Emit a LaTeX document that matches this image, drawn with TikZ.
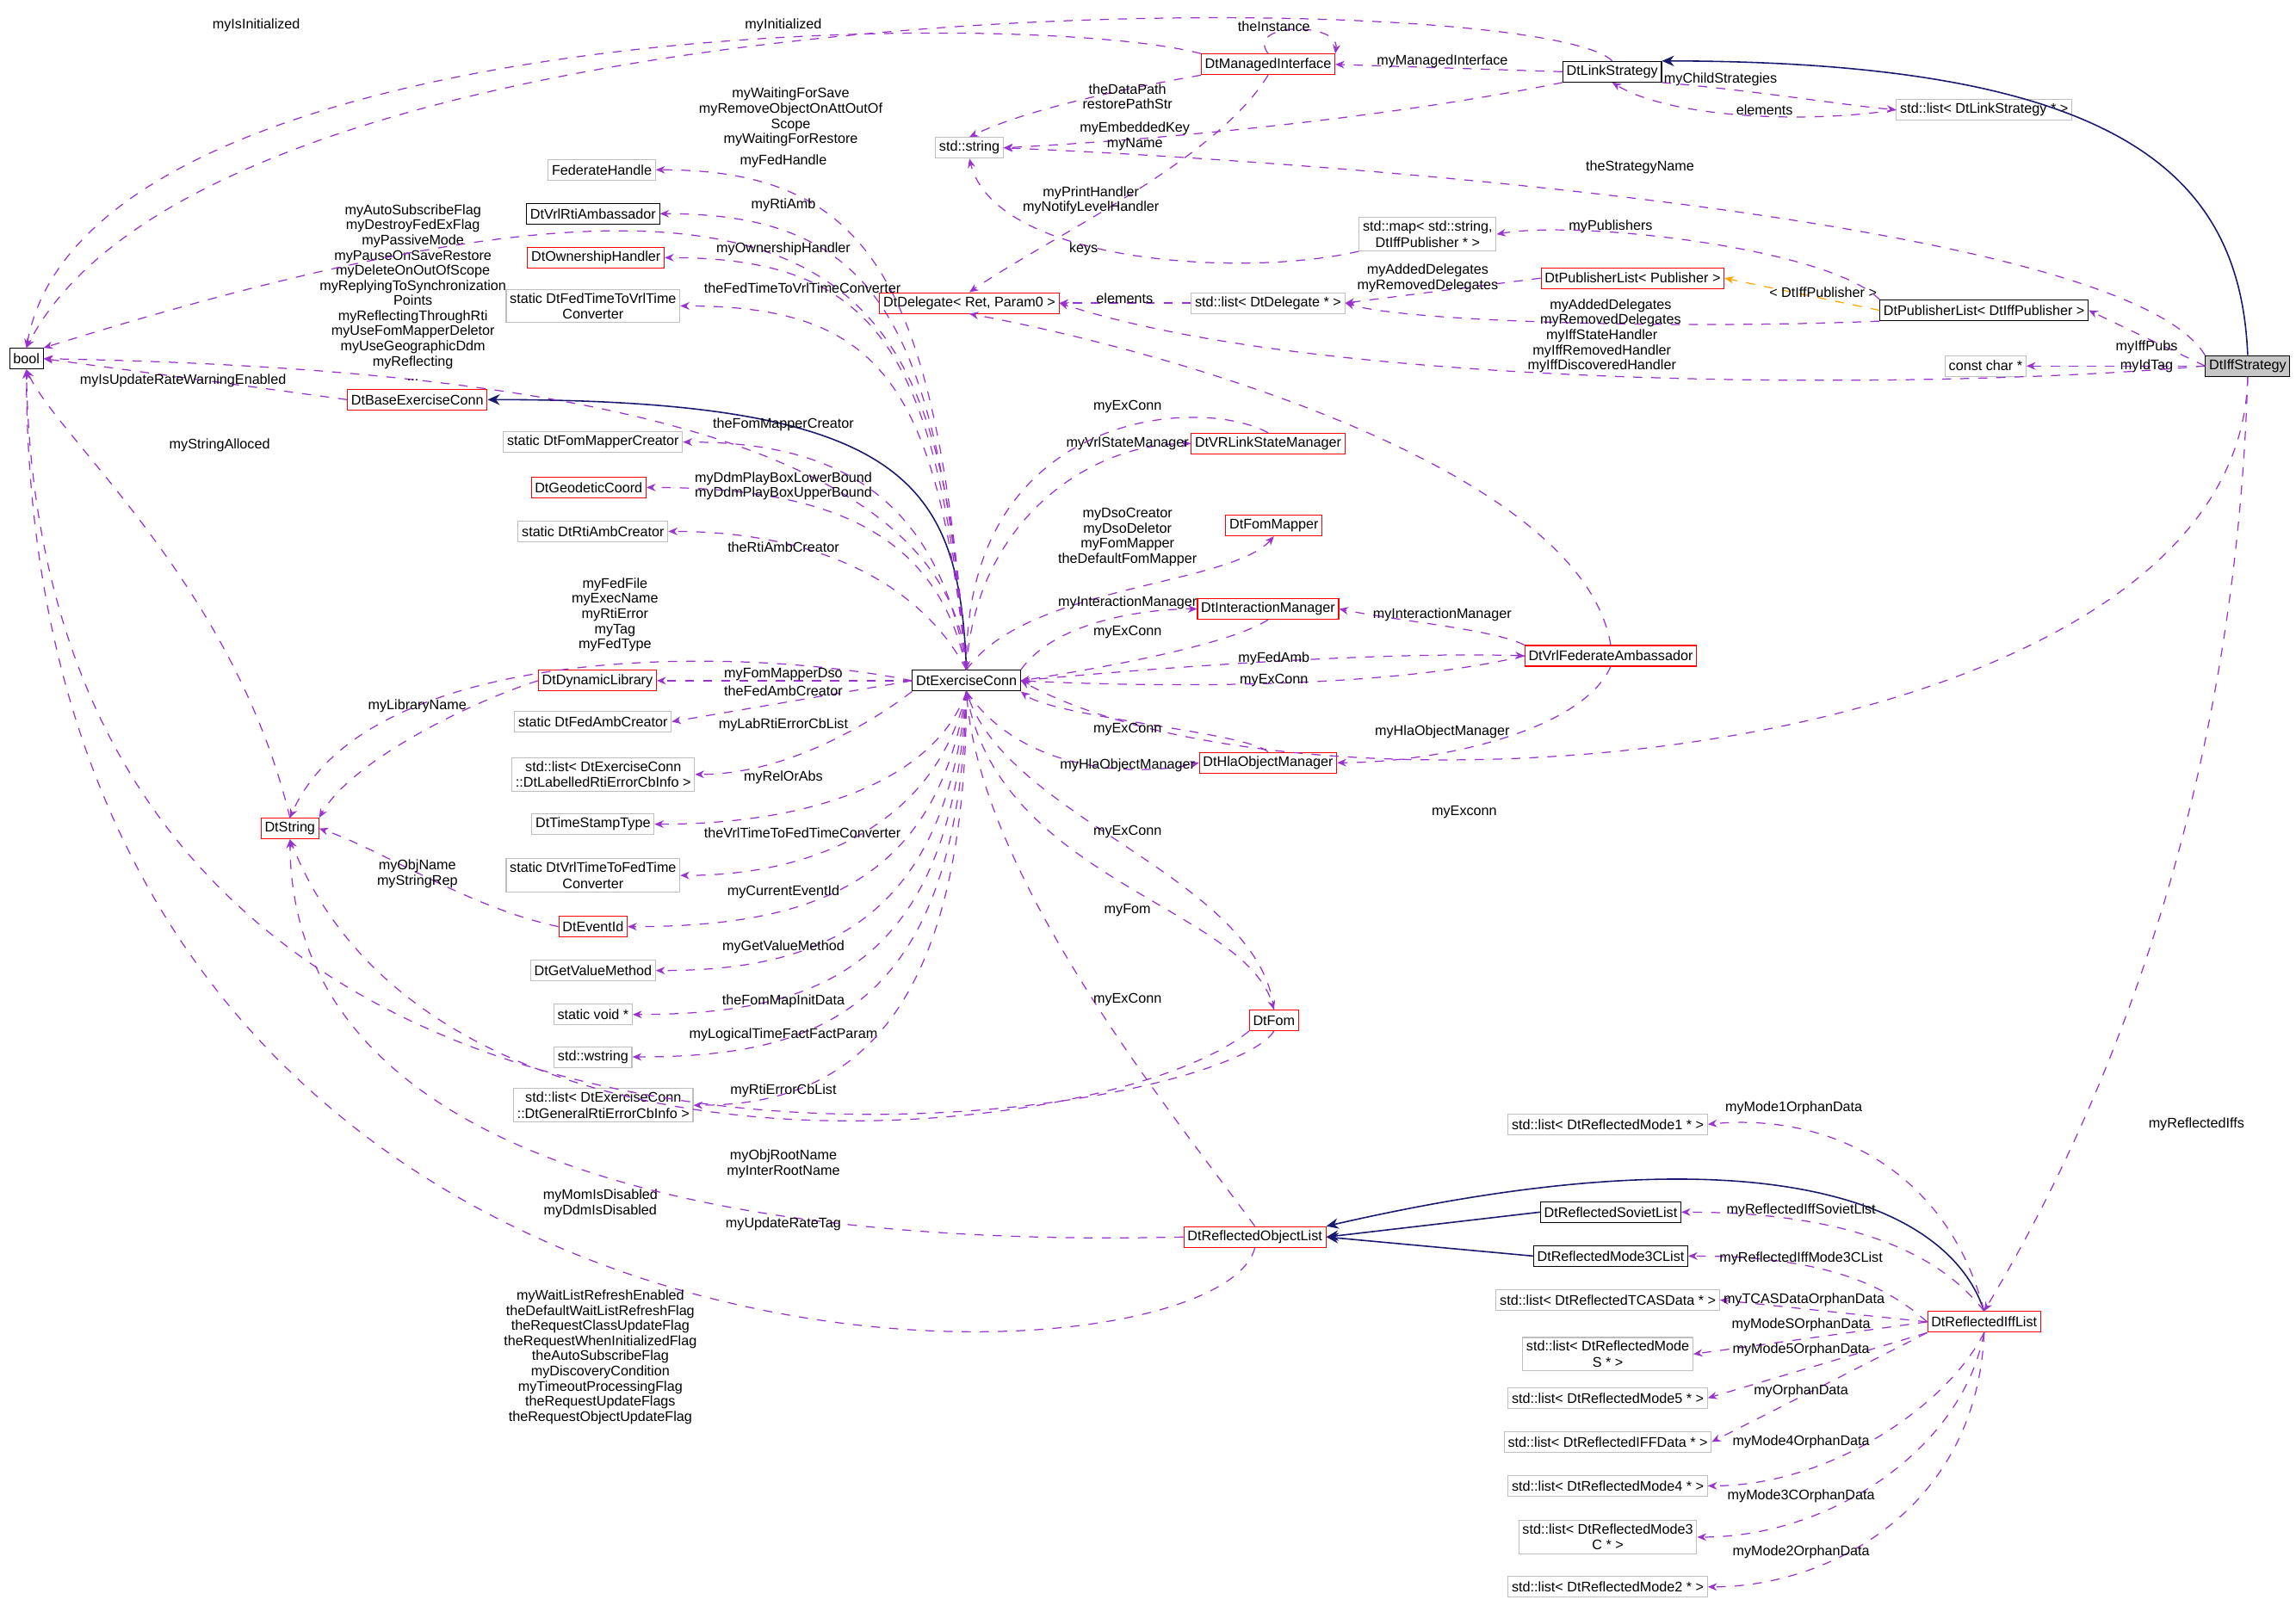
\documentclass[tikz,border=0pt]{standalone}
\usepackage{fontspec}
\setmainfont{Liberation Sans}
\usetikzlibrary{arrows.meta,positioning,calc}
\definecolor{depcol}{HTML}{9A32CD}
\definecolor{inhcol}{HTML}{191970}
\definecolor{tplcol}{HTML}{FFA500}
\definecolor{grayb}{HTML}{BFBFBF}
\newcommand{\lt}{\textless}
\newcommand{\gt}{\textgreater}
\tikzset{
  cls/.style={draw, line width=0.3pt, inner sep=1.2pt, minimum height=0.24cm, font=\fontsize{4.6}{5.2}\selectfont, align=center, fill=white},
  ext/.style={cls, draw=grayb},
  red/.style={cls, draw=red},
  blk/.style={cls, draw=black},
  dep/.style={draw=depcol, dashed, line width=0.35pt, -{Stealth[length=3pt,width=2.5pt]}},
  inh/.style={draw=inhcol, line width=0.45pt, -{Stealth[length=4pt,width=3.5pt]}},
  tpl/.style={draw=tplcol, dashed, line width=0.35pt, -{Stealth[length=3pt,width=2.5pt]}},
  lbl/.style={font=\fontsize{4.6}{5.0}\selectfont, align=center, inner sep=0pt}
}
\begin{document}
\begin{tikzpicture}[x=0.017cm, y=-0.017cm]
\useasboundingbox (0,0) rectangle (1568,1097);
% classes
\node[blk] (bool) at (18,245) {bool};
\node[cls, draw=black, fill=gray!45] (iffs) at (1535,250) {DtIffStrategy};
\node[blk] (link) at (1101,49) {DtLinkStrategy};
\node[red] (mgd) at (866,44) {DtManagedInterface};
\node[ext] (str) at (662,101) {std::string};
\node[ext] (lslist) at (1355,75) {std::list\lt{} DtLinkStrategy * \gt};
\node[ext] (fedh) at (411,116) {FederateHandle};
\node[blk] (rtiamb) at (405,146) {DtVrlRtiAmbassador};
\node[red] (own) at (407,176) {DtOwnershipHandler};
\node[ext] (f2v) at (405,209) {static DtFedTimeToVrlTime\\Converter};
\node[red] (dlg) at (662,207) {DtDelegate\lt{} Ret, Param0 \gt};
\node[ext] (smap) at (975,160) {std::map\lt{} std::string,\\DtIffPublisher * \gt};
\node[red] (publ) at (1115,190) {DtPublisherList\lt{} Publisher \gt};
\node[ext] (dlist) at (866,207) {std::list\lt{} DtDelegate * \gt};
\node[blk] (ipubl) at (1355,212) {DtPublisherList\lt{} DtIffPublisher \gt};
\node[ext] (cchar) at (1356,250) {const char *};
\node[red] (base) at (285,273) {DtBaseExerciseConn};
\node[ext] (fmc) at (405,302) {static DtFomMapperCreator};
\node[red] (geo) at (402,333) {DtGeodeticCoord};
\node[ext] (rac) at (405,363) {static DtRtiAmbCreator};
\node[red] (vsm) at (866,303) {DtVRLinkStateManager};
\node[red] (fmap) at (870,359) {DtFomMapper};
\node[red] (imgr) at (866,416) {DtInteractionManager};
\node[red] (vfa) at (1100,448) {DtVrlFederateAmbassador};
\node[blk] (ec) at (660,465) {DtExerciseConn};
\node[red] (dyn) at (408,465) {DtDynamicLibrary};
\node[ext] (fac) at (405,493) {static DtFedAmbCreator};
\node[ext] (lrl) at (412,529) {std::list\lt{} DtExerciseConn\\::DtLabelledRtiErrorCbInfo \gt};
\node[ext] (tst) at (405,563) {DtTimeStampType};
\node[ext] (v2f) at (405,598) {static DtVrlTimeToFedTime\\Converter};
\node[red] (evid) at (405,633) {DtEventId};
\node[ext] (gvm) at (405,663) {DtGetValueMethod};
\node[ext] (svoid) at (405,693) {static void *};
\node[ext] (wstr) at (405,722) {std::wstring};
\node[ext] (grl) at (412,755) {std::list\lt{} DtExerciseConn\\::DtGeneralRtiErrorCbInfo \gt};
\node[red] (hla) at (866,521) {DtHlaObjectManager};
\node[red] (dstr) at (198,566) {DtString};
\node[red] (fom) at (870,697) {DtFom};
\node[red] (rol) at (857,845) {DtReflectedObjectList};
\node[blk] (sov) at (1100,828) {DtReflectedSovietList};
\node[blk] (m3cl) at (1100,858) {DtReflectedMode3CList};
\node[red] (iffl) at (1355,903) {DtReflectedIffList};
\node[ext] (l1) at (1098,768) {std::list\lt{} DtReflectedMode1 * \gt};
\node[ext] (ltc) at (1098,888) {std::list\lt{} DtReflectedTCASData * \gt};
\node[ext] (lms) at (1098,925) {std::list\lt{} DtReflectedMode\\S * \gt};
\node[ext] (l5) at (1098,955) {std::list\lt{} DtReflectedMode5 * \gt};
\node[ext] (liff) at (1098,985) {std::list\lt{} DtReflectedIFFData * \gt};
\node[ext] (l4) at (1098,1015) {std::list\lt{} DtReflectedMode4 * \gt};
\node[ext] (l3c) at (1098,1050) {std::list\lt{} DtReflectedMode3\\C * \gt};
\node[ext] (l2) at (1098,1084) {std::list\lt{} DtReflectedMode2 * \gt};
% inheritance
\draw[inh] (iffs.north) .. controls (1530,120) and (1450,42) .. (link.north east);
\draw[inh] (ec.north) .. controls (655,330) and (620,273) .. (base.east);
\draw[inh] (iffl.north) .. controls (1330,820) and (1200,770) .. (rol.north east);
\draw[inh] (sov.west) -- (rol.east);
\draw[inh] (m3cl.west) -- (rol.east);
\draw[tpl] (ipubl.west) -- (publ.east);
\node[lbl] at (1245,200) {\lt{} DtIffPublisher \gt};
% IffStrategy members
\draw[dep] (iffs.north west) .. controls (1450,150) and (900,110) .. (str.east);
\node[lbl] at (1120,114) {theStrategyName};
\draw[dep] (iffs.west) -- (ipubl.east);
\node[lbl] at (1466,237) {myIffPubs};
\draw[dep] (iffs.west) -- (cchar.east);
\node[lbl] at (1466,250) {myIdTag};
\draw[dep] (iffs.west) .. controls (1300,268) and (900,265) .. (dlg.east);
\node[lbl] at (1094,240) {myIffStateHandler\\myIffRemovedHandler\\myIffDiscoveredHandler};
\draw[dep] (iffs.south) .. controls (1530,520) and (900,575) .. (ec.east);
\node[lbl] at (1000,555) {myExconn};
\draw[dep] (iffs.south) .. controls (1525,600) and (1400,820) .. (iffl.north);
\node[lbl] at (1500,768) {myReflectedIffs};
% link strategy
\draw[dep] (link.north) .. controls (1050,-10) and (150,-20) .. (bool.north);
\node[lbl] at (535,17) {myInitialized};
\draw[dep] (mgd.north west) .. controls (700,5) and (60,10) .. (bool.north);
\node[lbl] at (175,17) {myIsInitialized};
\draw[dep] (link.south east) .. controls (1200,62) and (1260,72) .. (lslist.west);
\node[lbl] at (1175,54) {myChildStrategies};
\draw[dep] (lslist.west) .. controls (1230,85) and (1140,80) .. (link.south);
\node[lbl] at (1205,75) {elements};
\draw[dep] (link.west) -- (mgd.east);
\node[lbl] at (985,42) {myManagedInterface};
\draw[dep] (link.south west) .. controls (950,80) and (800,95) .. (str.east);
\node[lbl] at (775,93) {myEmbeddedKey\\myName};
\draw[dep] (mgd.north) .. controls (850,15) and (915,15) .. (mgd.north east);
\node[lbl] at (870,18) {theInstance};
\draw[dep] (mgd.south west) .. controls (770,60) and (700,75) .. (str.north);
\node[lbl] at (770,66) {theDataPath\\restorePathStr};
\draw[dep] (mgd.south) .. controls (830,110) and (720,160) .. (dlg.north);
\node[lbl] at (745,137) {myPrintHandler\\myNotifyLevelHandler};
\draw[dep] (smap.south west) .. controls (850,190) and (680,180) .. (str.south);
\node[lbl] at (740,170) {keys};
\draw[dep] (ipubl.north west) .. controls (1250,170) and (1080,150) .. (smap.east);
\node[lbl] at (1100,155) {myPublishers};
\draw[dep] (publ.west) -- (dlist.east);
\node[lbl] at (975,190) {myAddedDelegates\\myRemovedDelegates};
\draw[dep] (ipubl.south west) .. controls (1150,225) and (960,220) .. (dlist.east);
\node[lbl] at (1100,214) {myAddedDelegates\\myRemovedDelegates};
\draw[dep] (dlist.west) -- (dlg.east);
\node[lbl] at (768,204) {elements};
% exercise conn members
\draw[dep] (ec.north) .. controls (650,280) and (300,250) .. (bool.east);
\node[lbl] at (282,200) {myAutoSubscribeFlag\\myDestroyFedExFlag\\myPassiveMode\\myPauseOnSaveRestore\\myDeleteOnOutOfScope\\myReplyingToSynchronization\\Points\\myReflectingThroughRti\\myUseFomMapperDeletor\\myUseGeographicDdm\\myReflecting\\...};
\draw[dep] (ec.north) .. controls (640,200) and (600,60) .. (bool.north east);
\node[lbl] at (540,80) {myWaitingForSave\\myRemoveObjectOnAttOutOf\\Scope\\myWaitingForRestore};
\draw[dep] (ec.north) .. controls (640,200) and (600,116) .. (fedh.east);
\node[lbl] at (535,110) {myFedHandle};
\draw[dep] (ec.north) .. controls (640,220) and (600,146) .. (rtiamb.east);
\node[lbl] at (535,140) {myRtiAmb};
\draw[dep] (ec.north) .. controls (640,240) and (600,176) .. (own.east);
\node[lbl] at (535,170) {myOwnershipHandler};
\draw[dep] (ec.north) .. controls (640,260) and (600,209) .. (f2v.east);
\node[lbl] at (548,197) {theFedTimeToVrlTimeConverter};
\draw[dep] (vfa.north) .. controls (1080,320) and (800,240) .. (dlg.south);
\draw[dep] (ec.north) .. controls (665,360) and (740,303) .. (vsm.west);
\node[lbl] at (770,303) {myVrlStateManager};
\draw[dep] (vsm.north) .. controls (820,270) and (660,280) .. (ec.north);
\node[lbl] at (770,278) {myExConn};
\draw[dep] (ec.north) .. controls (640,330) and (560,302) .. (fmc.east);
\node[lbl] at (535,290) {theFomMapperCreator};
\draw[dep] (ec.north) .. controls (640,360) and (560,333) .. (geo.east);
\node[lbl] at (535,332) {myDdmPlayBoxLowerBound\\myDdmPlayBoxUpperBound};
\draw[dep] (ec.north) .. controls (630,400) and (560,363) .. (rac.east);
\node[lbl] at (535,374) {theRtiAmbCreator};
\draw[dep] (ec.north) .. controls (700,400) and (840,400) .. (fmap.south);
\node[lbl] at (770,367) {myDsoCreator\\myDsoDeletor\\myFomMapper\\theDefaultFomMapper};
\draw[dep] (ec.north east) .. controls (720,425) and (780,416) .. (imgr.west);
\node[lbl] at (770,412) {myInteractionManager};
\draw[dep] (imgr.south) .. controls (840,440) and (760,455) .. (ec.east);
\node[lbl] at (770,432) {myExConn};
\draw[dep] (vfa.north west) .. controls (1020,430) and (960,425) .. (imgr.east);
\node[lbl] at (985,420) {myInteractionManager};
\draw[dep] (ec.east) .. controls (800,455) and (950,445) .. (vfa.west);
\node[lbl] at (870,450) {myFedAmb};
\draw[dep] (vfa.west) .. controls (950,470) and (800,470) .. (ec.east);
\node[lbl] at (870,465) {myExConn};
\draw[dep] (vfa.south) .. controls (1080,500) and (980,521) .. (hla.east);
\node[lbl] at (985,500) {myHlaObjectManager};
\draw[dep] (hla.north) .. controls (850,500) and (720,490) .. (ec.south east);
\node[lbl] at (770,498) {myExConn};
\draw[dep] (ec.south) .. controls (700,530) and (780,530) .. (hla.west);
\node[lbl] at (770,523) {myHlaObjectManager};
\draw[dep] (ec.west) .. controls (500,440) and (250,440) .. (dstr.north);
\node[lbl] at (420,420) {myFedFile\\myExecName\\myRtiError\\myTag\\myFedType};
\draw[dep] (ec.west) -- (dyn.east);
\node[lbl] at (535,461) {myFomMapperDso};
\draw[dep] (ec.west) -- (fac.east);
\node[lbl] at (535,472) {theFedAmbCreator};
\draw[dep] (ec.south west) .. controls (600,490) and (540,529) .. (lrl.east);
\node[lbl] at (535,495) {myLabRtiErrorCbList};
\draw[dep] (ec.south) .. controls (640,530) and (560,563) .. (tst.east);
\node[lbl] at (535,531) {myRelOrAbs};
\draw[dep] (ec.south) .. controls (640,560) and (560,598) .. (v2f.east);
\node[lbl] at (548,569) {theVrlTimeToFedTimeConverter};
\draw[dep] (ec.south) .. controls (640,600) and (560,633) .. (evid.east);
\node[lbl] at (535,609) {myCurrentEventId};
\draw[dep] (ec.south) .. controls (645,630) and (560,663) .. (gvm.east);
\node[lbl] at (535,647) {myGetValueMethod};
\draw[dep] (ec.south) .. controls (650,660) and (560,693) .. (svoid.east);
\node[lbl] at (535,684) {theFomMapInitData};
\draw[dep] (ec.south) .. controls (655,690) and (560,722) .. (wstr.east);
\node[lbl] at (535,707) {myLogicalTimeFactFactParam};
\draw[dep] (ec.south) .. controls (660,720) and (560,755) .. (grl.east);
\node[lbl] at (535,745) {myRtiErrorCbList};
\draw[dep] (ec.south) .. controls (680,600) and (850,620) .. (fom.north);
\node[lbl] at (770,622) {myFom};
\draw[dep] (fom.north) .. controls (860,600) and (690,560) .. (ec.south);
\node[lbl] at (770,568) {myExConn};
\draw[dep] (rol.north) .. controls (800,760) and (670,600) .. (ec.south);
\node[lbl] at (770,683) {myExConn};
\draw[dep] (fom.south west) .. controls (760,780) and (300,830) .. (dstr.south);
\node[lbl] at (535,795) {myObjRootName\\myInterRootName};
\draw[dep] (fom.south) .. controls (830,770) and (30,900) .. (bool.south);
\node[lbl] at (410,822) {myMomIsDisabled\\myDdmIsDisabled};
\draw[dep] (rol.west) .. controls (600,850) and (200,830) .. (dstr.south);
\node[lbl] at (535,836) {myUpdateRateTag};
\draw[dep] (rol.south) .. controls (830,960) and (20,990) .. (bool.south);
\node[lbl] at (410,927) {myWaitListRefreshEnabled\\theDefaultWaitListRefreshFlag\\theRequestClassUpdateFlag\\theRequestWhenInitializedFlag\\theAutoSubscribeFlag\\myDiscoveryCondition\\myTimeoutProcessingFlag\\theRequestUpdateFlags\\theRequestObjectUpdateFlag};
\draw[dep] (base.west) -- (bool.east);
\node[lbl] at (125,260) {myIsUpdateRateWarningEnabled};
\draw[dep] (dstr.north) .. controls (160,400) and (40,300) .. (bool.south);
\node[lbl] at (150,304) {myStringAlloced};
\draw[dep] (dyn.west) .. controls (320,480) and (240,520) .. (dstr.north east);
\node[lbl] at (285,482) {myLibraryName};
\draw[dep] (evid.west) .. controls (320,620) and (260,580) .. (dstr.east);
\node[lbl] at (285,597) {myObjName\\myStringRep};
% reflected iff list members
\draw[dep] (iffl.north) .. controls (1330,800) and (1250,760) .. (l1.east);
\node[lbl] at (1225,757) {myMode1OrphanData};
\draw[dep] (iffl.north) .. controls (1320,850) and (1250,828) .. (sov.east);
\node[lbl] at (1230,827) {myReflectedIffSovietList};
\draw[dep] (iffl.west) .. controls (1290,880) and (1250,858) .. (m3cl.east);
\node[lbl] at (1230,860) {myReflectedIffMode3CList};
\draw[dep] (iffl.west) -- (ltc.east);
\node[lbl] at (1232,888) {myTCASDataOrphanData};
\draw[dep] (iffl.west) -- (lms.east);
\node[lbl] at (1230,905) {myModeSOrphanData};
\draw[dep] (iffl.south west) -- (l5.east);
\node[lbl] at (1230,922) {myMode5OrphanData};
\draw[dep] (iffl.south west) -- (liff.east);
\node[lbl] at (1230,950) {myOrphanData};
\draw[dep] (iffl.south) .. controls (1330,960) and (1250,1015) .. (l4.east);
\node[lbl] at (1230,985) {myMode4OrphanData};
\draw[dep] (iffl.south) .. controls (1340,990) and (1250,1050) .. (l3c.east);
\node[lbl] at (1230,1022) {myMode3COrphanData};
\draw[dep] (iffl.south) .. controls (1350,1030) and (1250,1084) .. (l2.east);
\node[lbl] at (1230,1060) {myMode2OrphanData};
\end{tikzpicture}
\end{document}
